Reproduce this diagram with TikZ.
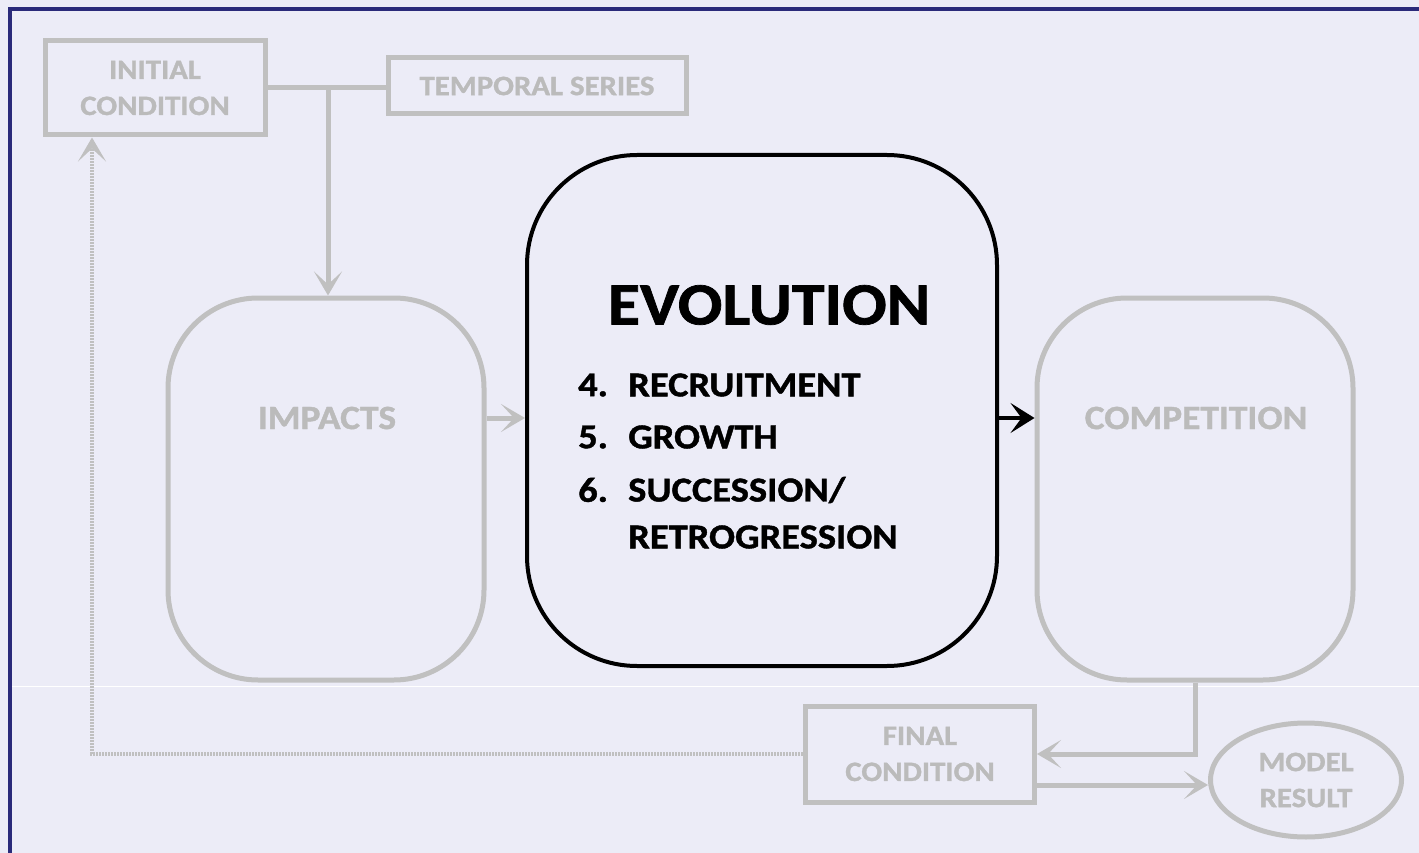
\documentclass[tikz,border=0pt]{standalone}
\usepackage{fontspec}
\setmainfont{Carlito}
\newfontfamily\labelfont[FakeStretch=1.1, FakeBold=1.2, BoldFont=Carlito Bold, BoldFeatures={FakeStretch=1.1, FakeBold=1.2}]{Carlito}
\usetikzlibrary{arrows.meta,shapes.geometric}
\definecolor{pagebg}{HTML}{ECECF7}
\definecolor{frame}{HTML}{2A2A7A}
\definecolor{dim}{HTML}{C0C0C0}
\definecolor{dimtext}{HTML}{BBBBBB}
\tikzset{
  dimbox/.style={draw=dim, line width=5pt, rectangle, inner sep=0pt},
  dimround/.style={draw=dim, line width=5pt, rectangle, rounded corners=90pt, inner sep=0pt},
  dimlabel/.style={text=dimtext, font=\labelfont\fontsize{28}{36}\selectfont\bfseries, align=center, inner sep=0pt},
  biglabel/.style={text=dimtext, font=\labelfont\fontsize{34}{40}\selectfont\bfseries, inner sep=0pt},
  listitem/.style={anchor=west, inner sep=0pt, font=\labelfont\fontsize{35}{40}\selectfont\bfseries},
  dimline/.style={draw=dim, line width=5pt},
  dimtip/.tip={Stealth[length=24pt,width=28pt,inset=13pt]},
  dimarrow/.style={dimline, -dimtip},
  dotline/.style={draw=dim, line width=4.5pt, dash pattern=on 2pt off 1pt},
  mainarrow/.style={draw=black, line width=4.5pt, -{Stealth[length=24pt,width=30pt,inset=11pt]}},
}
\begin{document}
\begin{tikzpicture}[x=1pt,y=-1pt]
  % page background and frame
  \fill[pagebg] (0,0) rectangle (1419,853);
  \useasboundingbox (0,0) rectangle (1419,853);
  \fill[frame] (8,7) rectangle (1419,11);
  \fill[frame] (8,7) rectangle (12,853);
  \draw[white, line width=1pt] (12,686) -- (1419,686);

  % boxes
  \node[dimbox, minimum width=220pt, minimum height=94pt] (init) at (155,88) {};
  \node[dimlabel] at (init) {INITIAL\\CONDITION};
  \node[dimbox, minimum width=298pt, minimum height=56pt] (temporal) at (537,86) {};
  \node[dimlabel] at (temporal) {TEMPORAL SERIES};

  \node[dimround, minimum width=316pt, minimum height=382pt] (impacts) at (326,489) {};
  \node[biglabel] (impactsT) at (327,418) {IMPACTS};

  \node[draw=black, line width=4pt, rectangle, rounded corners=110pt, inner sep=0pt,
        minimum width=470pt, minimum height=511pt] (evol) at (762,410.5) {};
  \node[font=\labelfont\fontsize{60}{70}\selectfont\bfseries, inner sep=0pt] (evolT) at (769,305) {EVOLUTION};
  \node[listitem] at (578,385) {4.};
  \node[listitem] at (628,385) {RECRUITMENT};
  \node[listitem] at (578,437) {5.};
  \node[listitem] at (628,437) {GROWTH};
  \node[listitem] at (578,490) {6.};
  \node[listitem] at (628,490) {SUCCESSION/};
  \node[listitem] at (628,537) {RETROGRESSION};

  \node[dimround, minimum width=316pt, minimum height=382pt] (comp) at (1195,489) {};
  \node[biglabel] (compT) at (1196,418) {COMPETITION};

  \node[dimbox, minimum width=229pt, minimum height=96pt] (final) at (920,754) {};
  \node[dimlabel] at (final) {FINAL\\CONDITION};
  \node[draw=dim, line width=5pt, ellipse, inner sep=0pt, minimum width=191pt, minimum height=114pt] (model) at (1306,780) {};
  \node[dimlabel] at (model) {MODEL\\RESULT};

  % connectors
  \coordinate (junction) at (328,88);
  \draw[dimline] (init.east) -- (init.east -| temporal.west);
  \draw[dimarrow] (junction) -- (junction |- impacts.north);
  \draw[dimarrow] (impacts.east |- impactsT) -- (evol.west |- impactsT);
  \draw[mainarrow] (evol.east |- compT) -- (comp.west |- compT);
  \draw[dimarrow] (comp.south) |- (final.east);
  \draw[dimarrow] ([yshift=-31pt]final.east) -- ([yshift=-31pt]final.east -| model.west);
  \draw[dotline, -dimtip] (final.west) -| ([xshift=-63pt]init.south);
\end{tikzpicture}
\end{document}
